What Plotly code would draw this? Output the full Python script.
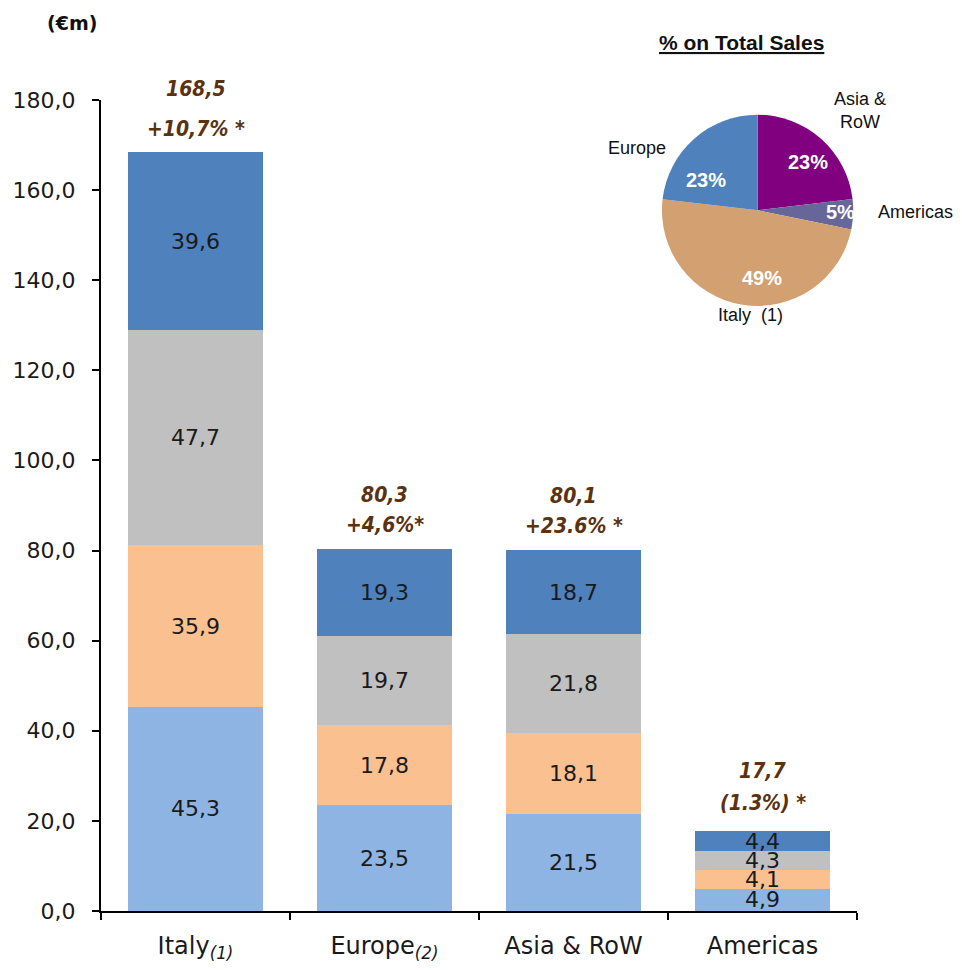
import plotly.graph_objects as go

categories = ["Italy", "Europe", "Asia & RoW", "Americas"]
tick_labels = ["Italy<sub><i>(1)</i></sub>", "Europe<sub><i>(2)</i></sub>", "Asia & RoW", "Americas"]
seg1 = [45.3, 23.5, 21.5, 4.9]
seg2 = [35.9, 17.8, 18.1, 4.1]
seg3 = [47.7, 19.7, 21.8, 4.3]
seg4 = [39.6, 19.3, 18.7, 4.4]
totals = [168.5, 80.3, 80.1, 17.7]
total_labels = ["168,5", "80,3", "80,1", "17,7"]
growth_labels = ["+10,7% *", "+4,6%*", "+23.6% *", "(1.3%) *"]

pie_labels = ["Asia & RoW", "Americas", "Italy (1)", "Europe"]
pie_values = [80.1, 17.7, 168.5, 80.3]
pie_names = ["Asia &<br>RoW", "Americas", "Italy  (1)", "Europe"]

y_ticks = [0, 20, 40, 60, 80, 100, 120, 140, 160, 180]
y_ticktext = ["0,0", "20,0", "40,0", "60,0", "80,0", "100,0", "120,0", "140,0", "160,0", "180,0"]

seg_colors = ["#8DB4E2", "#FAC090", "#C0C0C0", "#4F81BD"]
FONT = "DejaVu Sans, sans-serif"
FONT_C = "DejaVu Sans Condensed, DejaVu Sans, sans-serif"
ARIAL = "Liberation Sans, Arial, sans-serif"
BROWN = "#5A3210"

W, H = 962, 970
L, R, T, B = 101, 105, 100, 59
pw, ph = W - L - R, H - T - B


def px(x):
    return (x - L) / pw


def py(y):
    return (H - B - y) / ph


fig = go.Figure()
for vals, col in zip([seg1, seg2, seg3, seg4], seg_colors):
    fig.add_trace(go.Bar(
        x=categories, y=vals, marker=dict(color=col, line=dict(width=0)),
        text=[f"{v:.1f}".replace(".", ",") for v in vals],
        textposition="inside", insidetextanchor="middle", textangle=0,
        textfont=dict(family=FONT, size=22, color="#1a1a1a"),
        width=0.71, showlegend=False, hoverinfo="skip", cliponaxis=False,
    ))

fig.add_trace(go.Pie(
    labels=pie_labels, values=pie_values, sort=False, direction="clockwise", rotation=0,
    marker=dict(colors=["#800080", "#666699", "#D2A071", "#4F81BD"], line=dict(width=0)),
    textinfo="none",
    domain=dict(x=[0.742, 0.995], y=[0.745, 0.983]), showlegend=False, hoverinfo="skip",
))

annotations = []
line1_shift = [63, 54, 54, 60]
line2_shift = [23, 24, 24, 28]
for c, t, l1, l2, s1, s2 in zip(categories, totals, total_labels, growth_labels, line1_shift, line2_shift):
    for txt, sh in ((l1, s1), (l2, s2)):
        annotations.append(dict(x=c, y=t, xref="x", yref="y", text=f"<b><i>{txt}</i></b>", showarrow=False,
                                yshift=sh, xanchor="center", yanchor="middle",
                                font=dict(family=FONT_C, size=21, color=BROWN)))

annotations.append(dict(x=px(72), y=py(23), xref="paper", yref="paper", text="<b>(€m)</b>",
                        showarrow=False, xanchor="center", yanchor="middle",
                        font=dict(family=FONT, size=19, color="#111")))
annotations.append(dict(x=px(741), y=py(42), xref="paper", yref="paper", text="<u><b>% on Total Sales</b></u>",
                        showarrow=False, xanchor="center", yanchor="middle",
                        font=dict(family=ARIAL, size=21, color="#111")))

total = sum(pie_values)
name_pos = [(860, 110), (915, 212), (750, 315), (637, 148)]
pct_pos = [(808, 162), (840, 212), (762, 278), (706, 180)]
for v, nm, (nx, ny), (qx, qy) in zip(pie_values, pie_names, name_pos, pct_pos):
    annotations.append(dict(x=px(nx), y=py(ny), xref="paper", yref="paper", text=nm, showarrow=False,
                            xanchor="center", yanchor="middle", align="center",
                            font=dict(family=ARIAL, size=18, color="#111")))
    annotations.append(dict(x=px(qx), y=py(qy), xref="paper", yref="paper",
                            text=f"<b>{round(v / total * 100):d}%</b>", showarrow=False,
                            xanchor="center", yanchor="middle",
                            font=dict(family=ARIAL, size=20, color="white")))

fig.update_layout(
    barmode="stack", width=W, height=H,
    margin=dict(l=L, r=R, t=T, b=B, autoexpand=False),
    paper_bgcolor="white", plot_bgcolor="white",
    uniformtext=dict(minsize=22, mode="show"),
    annotations=annotations,
    font=dict(family=FONT, color="#1a1a1a"),
    xaxis=dict(tickvals=categories, ticktext=tick_labels, tickson="boundaries", ticks="outside",
               ticklen=7, tickcolor="black", tickwidth=1.5, showline=True, linecolor="black", linewidth=2,
               ticklabelstandoff=12, automargin=False,
               tickfont=dict(family=FONT, size=24, color="#1a1a1a"), showgrid=False),
    yaxis=dict(range=[0, 180], tickvals=y_ticks, ticktext=y_ticktext, ticks="outside", ticklen=7,
               tickcolor="black", tickwidth=1.5, showline=True, linecolor="black", linewidth=2,
               showgrid=False, ticklabelstandoff=12, automargin=False,
               zeroline=False, tickfont=dict(family=FONT, size=22, color="#1a1a1a")),
)
fig.write_html("out.html")
